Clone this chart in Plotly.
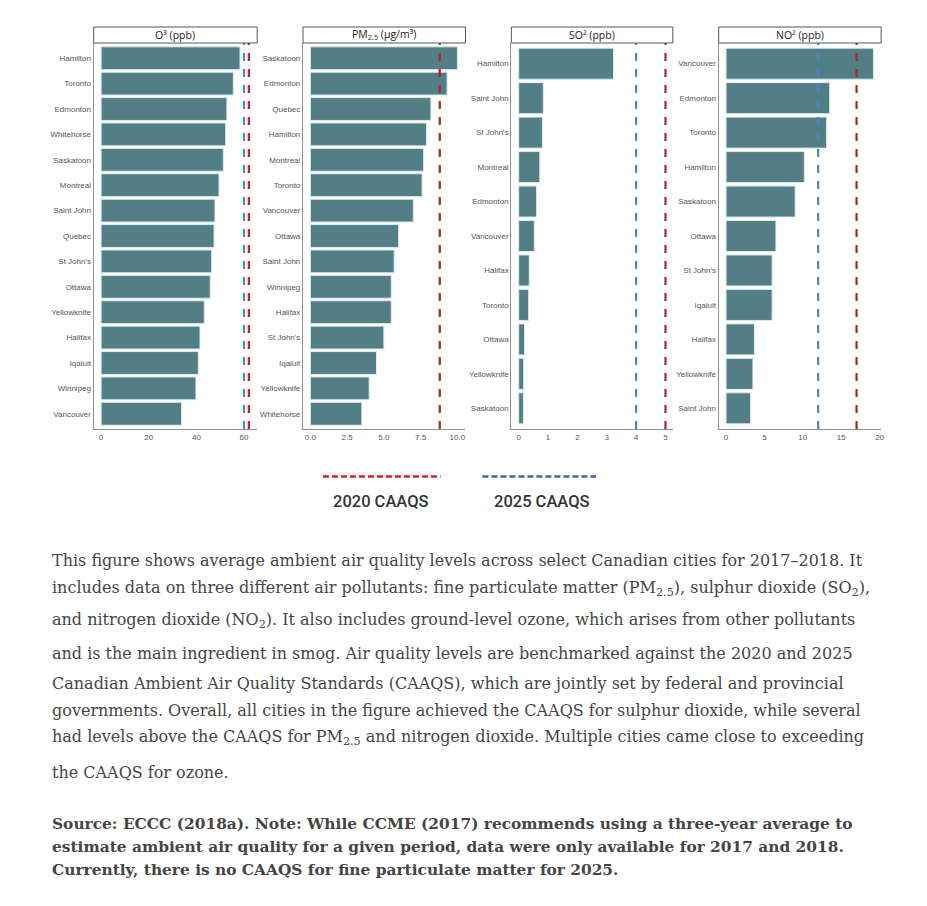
import plotly.graph_objects as go

W, H = 927, 906

# ---------------- data ----------------
o3_cities = ["Hamilton", "Toronto", "Edmonton", "Whitehorse", "Saskatoon", "Montreal", "Saint John",
             "Quebec", "St John's", "Ottawa", "Yellowknife", "Halifax", "Iqaluit", "Winnipeg", "Vancouver"]
o3_vals = [58.3, 55.5, 52.8, 52.3, 51.3, 49.5, 47.8, 47.4, 46.4, 45.8, 43.3, 41.5, 40.8, 39.8, 33.8]

pm_cities = ["Saskatoon", "Edmonton", "Quebec", "Hamilton", "Montreal", "Toronto", "Vancouver", "Ottawa",
             "Saint John", "Winnipeg", "Halifax", "St John's", "Iqaluit", "Yellowknife", "Whitehorse"]
pm_vals = [10.0, 9.3, 8.2, 7.9, 7.7, 7.6, 7.0, 6.0, 5.7, 5.5, 5.5, 5.0, 4.5, 4.0, 3.5]

so2_cities = ["Hamilton", "Saint John", "St John's", "Montreal", "Edmonton", "Vancouver", "Halifax",
              "Toronto", "Ottawa", "Yellowknife", "Saskatoon"]
so2_vals = [3.23, 0.84, 0.81, 0.72, 0.61, 0.53, 0.36, 0.34, 0.20, 0.17, 0.16]

no2_cities = ["Vancouver", "Edmonton", "Toronto", "Hamilton", "Saskatoon", "Ottawa", "St John's",
              "Iqaluit", "Halifax", "Yellowknife", "Saint John"]
no2_vals = [19.2, 13.5, 13.1, 10.2, 9.0, 6.5, 6.0, 6.0, 3.7, 3.5, 3.2]

panel_titles = ["O³ (ppb)", "PM<sub>2.5</sub> (µg/m³)", "SO² (ppb)", "NO² (ppb)"]
caaqs_2020 = [62, 8.8, 5, 17]
caaqs_2025 = [60, None, 4, 12]
x_ticks = [[0, 20, 40, 60], [0, 2.5, 5, 7.5, 10], [0, 1, 2, 3, 4, 5], [0, 5, 10, 15, 20]]
x_ticktext = [["0", "20", "40", "60"], ["0.0", "2.5", "5.0", "7.5", "10.0"],
              ["0", "1", "2", "3", "4", "5"], ["0", "5", "10", "15", "20"]]
x_ranges = [[-3.1, 65.5], [-0.5, 10.55], [-0.25, 5.25], [-0.96, 20.2]]
legend_labels = ["2020 CAAQS", "2025 CAAQS"]

# ---------------- style ----------------
BAR = "#527f85"
RED = "#b0232b"
BLUE = "#4a86c2"
AX = "#8f8f8f"


def px(x):
    return x / W


def py(y):
    return 1 - y / H


panels_x = [(94, 258), (304, 467), (513, 675), (721, 884)]
plot_top, plot_bot = 43, 429

fig = go.Figure()
cities_all = [o3_cities, pm_cities, so2_cities, no2_cities]
vals_all = [o3_vals, pm_vals, so2_vals, no2_vals]

layout = dict(width=W, height=H, margin=dict(l=0, r=0, t=0, b=0),
              paper_bgcolor="white", plot_bgcolor="white", showlegend=False,
              font=dict(family="Liberation Sans, Arial", color="#555"))
shapes = []
annotations = []

for i in range(4):
    s = "" if i == 0 else str(i + 1)
    cities, vals = cities_all[i], vals_all[i]
    n = len(cities)
    fig.add_trace(go.Bar(x=vals, y=cities, orientation="h", width=0.9,
                         marker=dict(color=BAR, line=dict(color="#dfe9ea", width=1)),
                         xaxis="x" + s, yaxis="y" + s, hoverinfo="x+y"))
    x0, x1 = panels_x[i]
    layout["xaxis" + s] = dict(domain=[px(x0), px(x1)], anchor="y" + s, range=x_ranges[i],
                               tickvals=x_ticks[i], ticktext=x_ticktext[i], showgrid=False,
                               zeroline=False, showline=True, linecolor=AX, linewidth=1.2,
                               ticks="", ticklabelstandoff=0,
                               tickfont=dict(size=8, color="#555"), fixedrange=True)
    layout["yaxis" + s] = dict(domain=[py(plot_bot), py(plot_top)], anchor="x" + s,
                               type="category", categoryorder="array", categoryarray=cities,
                               range=[n - 0.4, -0.6], showgrid=False, zeroline=False,
                               showline=True, linecolor=AX, linewidth=1.2, ticks="",
                               ticklabelstandoff=0,
                               tickfont=dict(size=8, color="#555"), fixedrange=True)
    # reference lines
    for val, col in ((caaqs_2025[i], BLUE), (caaqs_2020[i], RED)):
        if val is None:
            continue
        shapes.append(dict(type="line", xref="x" + s, yref="y" + s + " domain",
                           x0=val, x1=val, y0=0, y1=1, layer="above",
                           line=dict(color=col, width=2.2, dash="8px,8px")))
    # strip header
    shapes.append(dict(type="rect", xref="paper", yref="paper", x0=px(x0), x1=px(x1),
                       y0=py(43), y1=py(27), line=dict(color="#555", width=1),
                       fillcolor="white", layer="above"))
    annotations.append(dict(text=panel_titles[i], xref="paper", yref="paper",
                            x=px((x0 + x1) / 2), y=py(35), xanchor="center", yanchor="middle",
                            showarrow=False, font=dict(family="Open Sans", size=10.5, color="#222")))

# legend
leg_y = 476.5
shapes.append(dict(type="line", xref="paper", yref="paper", x0=px(324), x1=px(442),
                   y0=py(leg_y), y1=py(leg_y), line=dict(color="#d0252d", width=2.5, dash="6px,3px")))
shapes.append(dict(type="line", xref="paper", yref="paper", x0=px(484), x1=px(598),
                   y0=py(leg_y), y1=py(leg_y), line=dict(color="#3b63ab", width=2.5, dash="6px,3px")))
for lab, cx in zip(legend_labels, (382, 544)):
    annotations.append(dict(text=lab, xref="paper", yref="paper", x=px(cx), y=py(501),
                            xanchor="center", yanchor="middle", showarrow=False,
                            font=dict(family="Roboto", size=16.5, color="#333", weight=500)))

# caption text
para = [
    ("This figure shows average ambient air quality levels across select Canadian cities for 2017–2018. It", 560),
    ("includes data on three different air pollutants: fine particulate matter (PM<sub>2.5</sub>), sulphur dioxide (SO<sub>2</sub>),", 588),
    ("and nitrogen dioxide (NO<sub>2</sub>). It also includes ground-level ozone, which arises from other pollutants", 620),
    ("and is the main ingredient in smog. Air quality levels are benchmarked against the 2020 and 2025", 653),
    ("Canadian Ambient Air Quality Standards (CAAQS), which are jointly set by federal and provincial", 683),
    ("governments. Overall, all cities in the figure achieved the CAAQS for sulphur dioxide, while several", 710),
    ("had levels above the CAAQS for PM<sub>2.5</sub> and nitrogen dioxide. Multiple cities came close to exceeding", 737),
    ("the CAAQS for ozone.", 772),
]
note = [
    ("Source: ECCC (2018a). Note: While CCME (2017) recommends using a three-year average to", 824),
    ("estimate ambient air quality for a given period, data were only available for 2017 and 2018.", 847),
    ("Currently, there is no CAAQS for fine particulate matter for 2025.", 870),
]
for txt, cy in para:
    annotations.append(dict(text=txt, xref="paper", yref="paper", x=px(50), y=py(cy),
                            xanchor="left", yanchor="middle", showarrow=False,
                            font=dict(family="DejaVu Serif", size=16, color="#454545")))
for txt, cy in note:
    annotations.append(dict(text="<b>" + txt + "</b>", xref="paper", yref="paper", x=px(50), y=py(cy),
                            xanchor="left", yanchor="middle", showarrow=False,
                            font=dict(family="DejaVu Serif", size=15.4, color="#454545")))

layout["shapes"] = shapes
layout["annotations"] = annotations
fig.update_layout(**layout)
fig.write_html("out.html", post_script="document.body.style.margin='0';",
               config={"displayModeBar": False})
